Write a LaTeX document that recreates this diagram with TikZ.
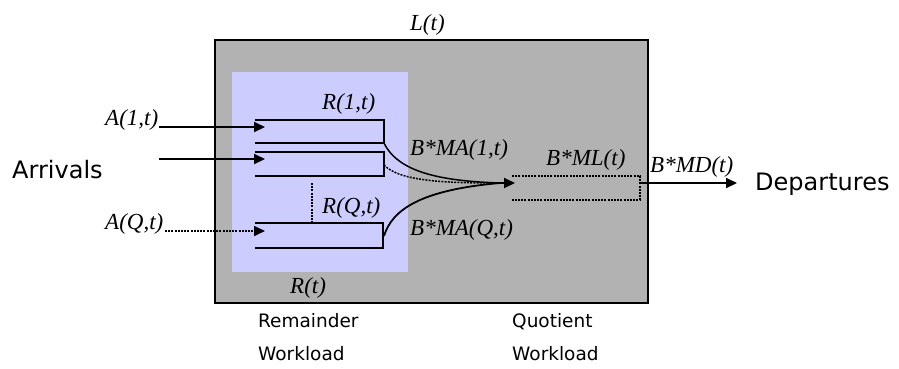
\documentclass[tikz,border=0pt]{standalone}
\usepackage{fontspec}
\setmainfont{Liberation Serif}
\newfontfamily\comicfont{DejaVu Sans}
\usetikzlibrary{arrows.meta}
\definecolor{boxgray}{HTML}{B2B2B2}
\definecolor{boxblue}{HTML}{CCCCFF}
\begin{document}
\begin{tikzpicture}[x=1pt,y=-1pt,
  lbl/.style={anchor=base west,inner sep=0pt,font=\fontsize{23}{26}\selectfont\itshape},
  big/.style={anchor=base west,inner sep=0pt,font=\comicfont\fontsize{24}{28}\selectfont},
  small/.style={anchor=base west,inner sep=0pt,align=left,font=\comicfont\fontsize{18.5}{33}\selectfont},
  qline/.style={line width=2pt},
  arr/.style={line width=2pt,-{Triangle[length=11pt,width=10pt]}},
  dots/.style={dash pattern=on 2pt off 1.2pt}]
\useasboundingbox (0,0) rectangle (899,368);
% boxes
\fill[boxgray] (215,40) rectangle (648,303);
\draw[line width=2pt] (215,40) rectangle (648,303);
\fill[boxblue] (232,72) rectangle (408,272);
% queues
\draw[qline] (255,120) -- (384,120) -- (384,143) -- (255,143);
\draw[qline] (255,152) -- (384,152) -- (384,176) -- (255,176);
\draw[qline] (255,223) -- (383,223) -- (383,248) -- (255,248);
\draw[line width=1.4pt,dots] (312,183) -- (312,223);
% named points
\coordinate (a1s) at (159,127); \coordinate (a1e) at (265,127);
\coordinate (a2s) at (159,159); \coordinate (a2e) at (265,159);
\coordinate (aqs) at (165,231); \coordinate (aqe) at (265,231);
\coordinate (q1) at (384,143);
\coordinate (q2) at (384,165);
\coordinate (qq) at (384,236);
\coordinate (m) at (500,183);
\coordinate (mt) at (515,183);
\coordinate (dstart) at (640,183);
\coordinate (dend) at (737,183);
% arrivals
\draw[arr] (a1s) -- (a1e);
\draw[arr] (a2s) -- (a2e);
\draw[arr,dots,line width=1.6pt] (aqs) -- (aqe);
% merging curves
\draw[line width=1.5pt] (q1) .. controls (398,172) and (440,181) .. (m);
\draw[line width=1.5pt,dots] (q2) .. controls (400,182) and (450,183) .. (m);
\draw[line width=1.8pt] (qq) .. controls (392,210) and (420,190) .. (m);
\draw[arr] (m) -- (mt);
% quotient queue
\draw[line width=1.3pt,dots] (512,176) -- (640,176) -- (640,200) -- (512,200);
\draw[arr] (dstart) -- (dend);
% labels
\node[lbl] (lt) at (410,30) {L(t)};
\node[lbl] (r1) at (322,109) {R(1,t)};
\node[lbl] (rq) at (322,213) {R(Q,t)};
\node[lbl] (rt) at (290,293) {R(t)};
\node[lbl] (a1) at (105,125) {A(1,t)};
\node[lbl] (aq) at (105,229) {A(Q,t)};
\node[lbl] (ma1) at (410,155) {B*MA(1,t)};
\node[lbl] (maq) at (410,235) {B*MA(Q,t)};
\node[lbl] (ml) at (546,165) {B*ML(t)};
\node[lbl] (md) at (650,172) {B*MD(t)};
\node[big] (arrv) at (12,178) {Arrivals};
\node[big] (dep) at (755,190) {Departures};
\node[small] (rw) at (258,360) {Remainder\\Workload};
\node[small] (qw) at (512,360) {Quotient\\Workload};
\end{tikzpicture}
\end{document}
